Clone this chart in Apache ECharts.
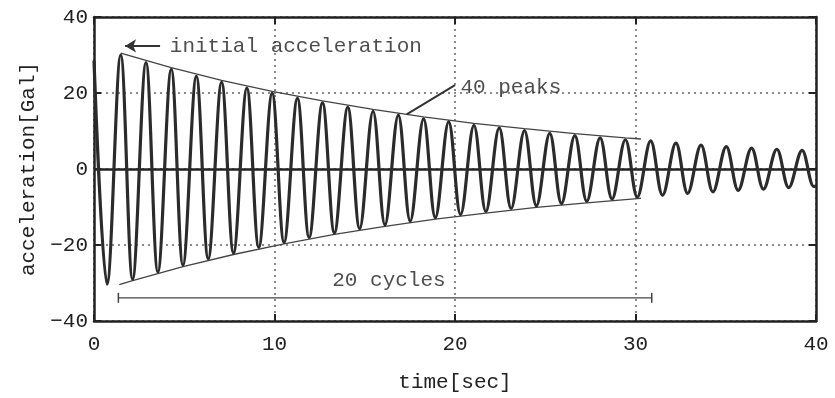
<!DOCTYPE html>
<html><head><meta charset="utf-8">
<script src="https://cdn.jsdelivr.net/npm/echarts@6/dist/echarts.min.js"></script>
<style>html,body{margin:0;padding:0;background:#fff}#c{width:835px;height:398px}</style>
</head><body><div id="c"></div>
<script>
// ---- data ----
const xTickInterval = 10;
const yTickInterval = 20;
const startPoint = [0, 28.5];
const endPoint = [40, -4.5];
const troughTimes = [0.72, 2.14, 3.54, 4.93, 6.33, 7.73, 9.13, 10.53, 11.92, 13.32, 14.72, 16.12, 17.52, 18.91, 20.31, 21.71, 23.11, 24.51, 25.90, 27.30, 28.70, 30.10, 31.50, 32.89, 34.29, 35.69, 37.09, 38.49, 39.88];
const troughValues = [-30.3, -29.0, -27.1, -25.3, -23.6, -22.1, -20.6, -19.3, -18.0, -16.8, -15.7, -14.7, -13.7, -12.8, -12.0, -11.2, -10.4, -9.7, -9.1, -8.5, -7.9, -7.4, -6.9, -6.4, -6.0, -5.6, -5.3, -4.9, -4.6];
const peakTimes = [1.48, 2.88, 4.28, 5.67, 7.07, 8.47, 9.87, 11.27, 12.66, 14.06, 15.46, 16.86, 18.26, 19.65, 21.05, 22.45, 23.85, 25.25, 26.64, 28.04, 29.44, 30.84, 32.24, 33.63, 35.03, 36.43, 37.83, 39.23];
const peakValues = [30.0, 28.0, 26.2, 24.4, 22.8, 21.3, 19.9, 18.6, 17.4, 16.2, 15.2, 14.2, 13.2, 12.4, 11.5, 10.8, 10.1, 9.4, 8.8, 8.2, 7.7, 7.4, 6.8, 6.3, 5.9, 5.5, 5.2, 4.9];
const upperEnvTimes = [1.48, 4.28, 7.07, 9.87, 12.66, 15.46, 18.26, 21.05, 23.85, 26.64, 29.44, 30.3];
const upperEnvValues = [30.5, 26.7, 23.3, 20.4, 17.9, 15.7, 13.7, 12.0, 10.6, 9.3, 8.2, 7.9];
const lowerEnvTimes = [1.40, 2.14, 4.93, 7.73, 10.53, 13.32, 16.12, 18.91, 21.71, 24.51, 27.30, 30.10, 30.3];
const lowerEnvValues = [-30.4, -29.4, -25.7, -22.5, -19.7, -17.2, -15.1, -13.2, -11.6, -10.1, -8.9, -7.8, -7.7];
const cyclesSpan = [1.35, 30.9];
const cyclesLevel = -33.9;
const arrowFrom = [3.66, 32.4];
const arrowTo = [1.72, 32.4];
const leaderFrom = [17.32, 14.4];
const leaderTo = [20.0, 22.1];
const labelTexts = ['initial acceleration', '40 peaks', '20 cycles'];
const labelTimes = [4.2, 20.3, 13.2];
const labelValues = [32.2, 21.5, -29.4];
const xName = 'time[sec]';
const yName = 'acceleration[Gal]';

// ---- build ----
const wave = [startPoint];
for (let i = 0; i < troughTimes.length; i++) {
  wave.push([troughTimes[i], troughValues[i]]);
  if (i < peakTimes.length) wave.push([peakTimes[i], peakValues[i]]);
}
wave.push(endPoint);
const upperEnv = upperEnvTimes.map((t, i) => [t, upperEnvValues[i]]);
const lowerEnv = lowerEnvTimes.map((t, i) => [t, lowerEnvValues[i]]);
const labelData = labelTexts.map((s, i) => ({ value: [labelTimes[i], labelValues[i]], name: s }));

const FONT = 'Liberation Mono';
const INK = '#222';
const fmtY = v => String(v).replace('-', '\u2212');
const mkLine = () => ({ show: true, onZero: false, lineStyle: { color: '#222', width: 2.5 } });
const mkTick = () => ({ show: true, inside: true, length: 7, lineStyle: { color: '#222', width: 2 } });

const chart = echarts.init(document.getElementById('c'), null, { renderer: 'canvas' });
chart.setOption({
  animation: false,
  backgroundColor: '#fff',
  grid: { left: 94, right: 19, top: 17, bottom: 77, containLabel: false },
  xAxis: [
    {
      type: 'value', min: 0, max: 40, interval: xTickInterval, position: 'bottom',
      axisLine: mkLine(), axisTick: mkTick(),
      name: xName, nameLocation: 'middle', nameGap: 51,
      nameTextStyle: { fontFamily: FONT, fontSize: 21, color: INK },
      axisLabel: { fontFamily: FONT, fontSize: 21, color: INK, margin: 13 },
      splitLine: { show: true, lineStyle: { color: '#666', width: 1.5, type: [2, 4] } }
    },
    {
      type: 'value', min: 0, max: 40, interval: xTickInterval, position: 'top',
      axisLine: mkLine(), axisTick: mkTick(),
      axisLabel: { show: false }, splitLine: { show: false }
    }
  ],
  yAxis: [
    {
      type: 'value', min: -40, max: 40, interval: yTickInterval, position: 'left',
      axisLine: mkLine(), axisTick: mkTick(),
      name: yName, nameLocation: 'middle', nameGap: 52,
      nameTextStyle: { fontFamily: FONT, fontSize: 21, color: INK },
      axisLabel: { fontFamily: FONT, fontSize: 21, color: INK, margin: 6, formatter: fmtY },
      splitLine: { show: true, lineStyle: { color: '#666', width: 1.5, type: [2, 4] } }
    },
    {
      type: 'value', min: -40, max: 40, interval: yTickInterval, position: 'right',
      axisLine: mkLine(), axisTick: mkTick(),
      axisLabel: { show: false }, splitLine: { show: false }
    }
  ],
  series: [
    {
      type: 'line', data: wave, smooth: 0.36, symbol: 'none', z: 5,
      lineStyle: { color: '#2b2b2b', width: 3.2 },
      markLine: {
        silent: true, symbol: 'none', label: { show: false },
        lineStyle: { color: '#222', width: 2.5, type: 'solid' },
        data: [{ yAxis: 0 }]
      }
    },
    { type: 'line', data: upperEnv, symbol: 'none', z: 4, lineStyle: { color: '#444', width: 1.3 } },
    { type: 'line', data: lowerEnv, symbol: 'none', z: 4, lineStyle: { color: '#444', width: 1.3 } },
    {
      type: 'line', data: [[cyclesSpan[0], cyclesLevel], [cyclesSpan[1], cyclesLevel]],
      symbol: 'rect', symbolSize: [1.5, 10], showSymbol: true, z: 4,
      itemStyle: { color: '#444' }, lineStyle: { color: '#444', width: 1.3 }
    },
    {
      type: 'line', data: [leaderFrom, leaderTo], symbol: 'none', z: 4,
      lineStyle: { color: '#333', width: 2 }
    },
    {
      type: 'line', data: [], symbol: 'none', z: 4,
      markLine: {
        silent: true, symbol: ['none', 'arrow'], symbolSize: [10, 11], label: { show: false },
        lineStyle: { color: '#333', width: 2, type: 'solid' },
        data: [[{ coord: arrowFrom }, { coord: arrowTo }]]
      }
    },
    {
      type: 'scatter', data: labelData, symbolSize: 0, z: 6,
      label: {
        show: true, position: 'right', distance: 0,
        formatter: p => p.name, fontFamily: FONT, fontSize: 21, color: INK
      }
    }
  ]
});
</script></body></html>
